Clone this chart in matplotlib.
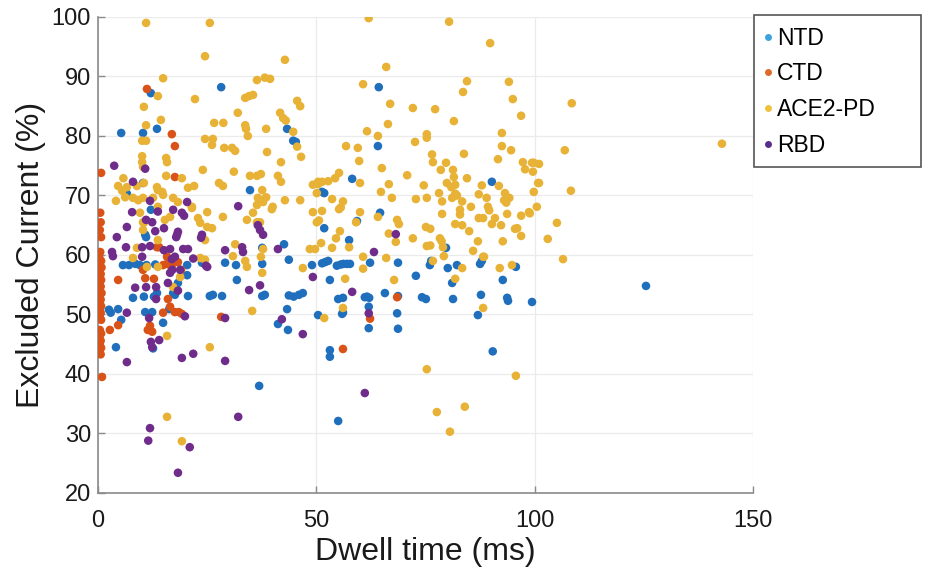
import matplotlib.pyplot as plt
from matplotlib.patches import Rectangle
import numpy as np

# values: (dwell time ms, excluded current %)
ntd = [
    (28.2, 88.2), (12.1, 87.2), (5.3, 80.5), (10.3, 80.5), (13.5, 81.2), (43.3, 81.2),
    (44.7, 79.2), (45.3, 79.0), (10.3, 72.1), (6.6, 70.3), (34.8, 70.9), (12.1, 67.6),
    (11.0, 63.0), (10.8, 63.4), (37.6, 61.2), (42.6, 61.8), (64.3, 88.2), (64.1, 78.3),
    (58.2, 72.8), (51.3, 70.6), (51.8, 70.4), (90.2, 72.3), (64.6, 67.1), (59.3, 65.7),
    (51.8, 64.5), (57.5, 62.5), (79.7, 61.2),
    (5.7, 58.3), (7.1, 58.3), (8.6, 58.5), (9.6, 58.3), (11.1, 58.3), (13.1, 58.4),
    (20.4, 58.3), (23.8, 58.7), (29.1, 58.7), (31.6, 58.3), (37.6, 58.5), (43.7, 59.2),
    (49.0, 58.3), (51.3, 58.6), (52.0, 58.8), (52.7, 59.0), (54.7, 58.2), (55.6, 58.4),
    (56.2, 58.5), (57.0, 58.5), (57.7, 58.5), (62.3, 58.7), (68.7, 58.7), (76.0, 58.3),
    (76.3, 59.0), (80.1, 57.8), (82.2, 58.3), (87.5, 58.5), (87.9, 59.0), (95.7, 58.0),
    (20.4, 56.6), (31.8, 55.8), (18.3, 55.3), (37.6, 53.1), (38.2, 53.3), (25.6, 53.1),
    (26.3, 53.3), (28.4, 53.1), (43.7, 53.2), (44.8, 53.0), (46.0, 53.3), (46.9, 53.6),
    (8.0, 52.8), (10.5, 53.0), (12.8, 53.0), (13.5, 53.6), (17.2, 53.6), (17.6, 53.3),
    (20.6, 53.1), (16.3, 50.9), (10.8, 50.4), (12.4, 50.4), (14.9, 48.6), (41.2, 48.4),
    (43.3, 50.9), (43.5, 47.4), (50.4, 49.9), (2.5, 50.8), (2.9, 50.3), (4.6, 50.9),
    (5.3, 49.1), (4.1, 44.5), (12.6, 44.3), (53.1, 55.8), (55.0, 52.6), (56.1, 52.8),
    (61.1, 52.9), (61.6, 53.0), (62.1, 52.8), (65.7, 53.6), (68.7, 53.1), (74.2, 52.9),
    (75.1, 52.6), (81.3, 52.6), (87.7, 53.3), (93.7, 52.8), (93.9, 52.3), (99.4, 52.1),
    (55.9, 50.1), (56.1, 50.3), (62.0, 51.3), (62.0, 47.7), (68.5, 50.2), (68.7, 47.6),
    (87.0, 49.9), (53.1, 44.0), (53.1, 42.9), (90.4, 43.8), (55.0, 32.1), (36.9, 38.0),
    (125.5, 54.8), (72.8, 56.5), (81.1, 55.3), (92.7, 55.8),
]

ctd = [
    (0.7, 73.8), (0.5, 67.1), (0.6, 65.5), (0.4, 64.2), (0.7, 63.0), (0.5, 60.5),
    (0.3, 59.5), (0.7, 59.0), (0.4, 58.4), (0.8, 57.9), (0.3, 57.4), (0.6, 56.8),
    (0.4, 56.3), (0.7, 55.8), (0.3, 55.2), (0.6, 54.7), (0.4, 54.1), (0.8, 53.6),
    (0.3, 53.0), (0.6, 52.5), (0.4, 51.9), (0.7, 51.4), (0.3, 50.8), (0.6, 50.3),
    (0.4, 49.7), (0.7, 49.1), (0.4, 47.4), (0.7, 46.8), (0.3, 46.2), (0.6, 45.6),
    (0.4, 45.0), (0.7, 44.4), (0.3, 43.8), (0.6, 43.3), (0.9, 39.5),
    (11.2, 87.9), (16.9, 80.3), (17.6, 78.3), (17.6, 73.1), (13.5, 61.3), (14.0, 61.3),
    (15.8, 59.7), (4.6, 55.8), (2.7, 47.4), (4.6, 48.2), (14.9, 58.3), (15.8, 58.5),
    (16.5, 58.3), (17.2, 58.6), (18.3, 58.8), (19.0, 57.5), (10.3, 57.5), (10.8, 56.1),
    (12.8, 56.0), (16.0, 52.6), (16.5, 51.3), (14.9, 50.3), (17.6, 50.4), (18.5, 50.4),
    (19.2, 50.1), (11.9, 48.1), (11.4, 47.4), (12.4, 47.1), (28.2, 49.6), (62.3, 49.3),
    (68.5, 52.9), (56.1, 44.2),
]

ace2 = [
    (11.0, 99.0), (25.6, 99.0), (62.0, 99.8), (80.4, 99.2), (89.8, 95.6), (24.5, 93.4),
    (42.8, 92.8), (14.9, 89.7), (36.4, 89.4), (38.2, 89.8), (39.4, 89.6), (13.7, 86.7),
    (22.2, 86.2), (33.7, 86.4), (34.6, 86.7), (35.5, 86.9), (45.6, 85.9), (46.3, 85.0),
    (10.5, 84.9), (11.0, 81.8), (14.4, 82.7), (32.0, 83.9), (26.6, 82.2), (28.7, 82.2),
    (33.7, 81.8), (33.9, 81.2), (34.3, 80.0), (38.5, 81.2), (41.7, 83.9), (42.4, 83.0),
    (43.0, 82.6), (44.7, 80.7), (45.6, 78.2), (46.5, 76.5), (10.1, 79.2), (11.0, 79.2),
    (24.5, 79.5), (26.3, 79.5), (26.1, 78.5), (28.9, 78.0), (30.7, 78.0), (31.4, 77.5),
    (38.7, 77.3), (10.1, 76.6), (10.1, 75.6), (10.3, 74.8), (15.6, 76.3), (15.8, 75.6),
    (41.9, 75.6), (24.0, 74.3), (31.1, 74.0), (15.6, 73.3), (5.8, 72.9), (19.2, 72.9),
    (34.8, 73.3), (36.4, 73.3), (37.3, 73.6), (41.2, 73.3), (41.9, 72.3), (4.6, 71.6),
    (5.5, 70.8), (6.6, 71.4), (8.9, 71.6), (10.5, 72.1), (13.5, 71.4), (13.7, 70.9),
    (14.7, 70.6), (20.6, 71.3), (22.0, 71.6), (27.7, 72.1), (28.6, 71.6), (37.6, 70.9),
    (38.5, 69.7), (50.4, 71.9), (50.1, 70.4), (4.1, 69.1), (6.2, 69.7), (8.0, 69.6),
    (9.2, 69.2), (10.3, 69.6), (12.6, 69.6), (14.9, 70.1), (17.2, 69.6), (18.3, 68.9),
    (21.5, 68.1), (25.0, 67.2), (28.6, 66.4), (36.4, 68.4), (36.6, 69.6), (37.8, 68.9),
    (39.8, 67.7), (40.0, 68.1), (42.8, 69.2), (46.3, 69.2), (49.2, 67.2), (50.1, 65.5),
    (9.6, 67.1), (10.5, 65.4), (15.3, 65.9), (16.5, 66.4), (22.9, 66.2), (23.4, 65.4),
    (34.1, 65.9), (35.5, 67.1), (36.4, 65.5), (37.1, 65.5), (25.0, 64.7), (26.1, 64.5),
    (8.9, 61.2), (13.7, 62.5), (24.5, 62.5), (31.4, 61.8), (37.8, 61.0), (48.5, 61.0),
    (49.7, 61.0), (8.0, 59.5), (11.2, 58.0), (13.7, 58.0), (23.4, 59.5), (24.5, 59.2),
    (18.8, 56.3), (17.2, 54.6), (15.8, 46.4), (25.6, 44.5), (35.3, 50.6), (30.9, 59.8),
    (33.7, 59.0), (34.1, 58.0), (37.6, 57.0), (37.3, 59.7), (46.9, 57.8), (15.8, 32.8),
    (19.2, 28.7), (10.3, 65.5), (10.3, 64.2), (13.7, 68.1), (21.5, 67.9),
    (66.0, 91.6), (60.7, 88.7), (84.5, 89.2), (83.6, 87.4), (94.1, 89.1), (95.0, 86.2),
    (96.9, 83.4), (66.9, 85.4), (72.1, 84.7), (77.2, 84.5), (81.5, 82.5), (66.4, 82.0),
    (61.6, 80.8), (64.1, 80.0), (75.3, 80.3), (75.3, 79.7), (72.6, 79.0), (56.8, 78.3),
    (59.5, 78.0), (59.8, 75.8), (92.5, 80.5), (92.5, 78.3), (94.6, 77.6), (91.6, 76.1),
    (76.5, 76.9), (76.7, 75.6), (83.8, 77.0), (79.7, 75.5), (97.3, 75.6), (99.4, 75.5),
    (65.0, 74.6), (55.2, 73.8), (54.3, 72.9), (70.8, 73.4), (78.5, 74.3), (81.3, 74.3),
    (81.5, 73.1), (97.8, 74.4), (84.5, 72.9), (60.0, 72.1), (66.6, 71.9), (74.6, 71.7),
    (79.9, 72.1), (80.9, 71.4), (81.8, 71.8), (87.9, 71.7), (91.8, 71.6), (100.8, 72.1),
    (49.2, 71.8), (50.4, 72.3), (51.3, 72.3), (52.7, 72.4), (64.8, 70.6), (78.1, 70.4),
    (81.8, 70.3), (82.2, 70.0), (87.2, 70.2), (93.2, 70.4), (93.0, 69.2), (93.5, 68.8),
    (94.2, 69.6), (53.6, 69.4), (56.1, 69.0), (67.3, 69.6), (72.8, 69.4), (75.3, 69.6),
    (78.8, 69.0), (81.1, 69.6), (83.4, 69.0), (89.0, 69.6), (51.3, 67.4), (55.2, 67.7),
    (55.6, 68.0), (60.0, 67.2), (78.8, 66.9), (82.9, 67.6), (82.9, 66.8), (85.4, 68.1),
    (87.2, 66.2), (89.3, 68.1), (89.6, 67.5), (90.9, 66.2), (88.2, 66.2), (93.7, 66.9),
    (96.9, 66.6), (98.7, 67.2), (50.6, 65.8), (59.1, 65.5), (64.1, 66.4), (68.5, 65.9),
    (68.9, 65.2), (75.1, 64.7), (76.1, 64.4), (81.8, 65.2), (83.4, 65.0), (85.0, 64.0),
    (90.2, 65.2), (92.3, 65.0), (95.5, 64.4), (96.0, 64.5), (96.9, 63.2), (54.5, 62.8),
    (55.4, 64.0), (66.6, 63.6), (72.1, 62.8), (78.3, 62.8), (78.7, 62.3), (87.0, 62.3),
    (92.7, 62.3), (51.1, 62.0), (57.5, 61.3), (68.2, 62.2), (75.3, 61.5), (76.1, 61.6),
    (79.0, 61.3), (85.9, 60.7), (88.4, 59.7), (53.6, 61.2),
    (108.5, 85.5), (142.9, 78.7), (106.9, 77.6), (99.8, 75.5), (101.0, 75.3), (99.6, 74.0),
    (101.0, 72.1), (99.8, 70.6), (108.3, 70.8), (100.5, 68.1), (98.9, 67.0), (105.1, 65.4),
    (103.0, 62.7), (106.5, 59.3),
    (60.7, 59.7), (60.7, 57.7), (66.0, 59.5), (76.7, 59.0), (79.2, 59.8), (83.4, 57.8),
    (88.2, 59.7), (92.0, 57.8), (94.8, 58.3), (56.6, 56.0), (67.8, 55.8), (81.8, 56.0),
    (56.1, 51.1), (51.8, 49.4), (88.2, 51.1), (75.3, 40.8), (95.7, 39.7), (77.6, 33.6),
    (84.0, 34.5), (80.6, 30.3),
]

rbd = [
    (3.7, 75.0), (10.8, 74.5), (8.0, 72.3), (11.9, 69.1), (20.4, 68.9), (32.1, 68.2),
    (7.8, 67.2), (13.7, 67.3), (17.2, 67.6), (19.7, 66.6), (19.2, 67.1), (11.0, 65.9),
    (12.4, 65.5), (6.6, 64.7), (15.1, 64.5), (13.1, 64.0), (18.3, 63.9), (18.1, 63.4),
    (17.9, 63.0), (4.3, 63.0), (23.6, 62.9), (23.8, 63.4), (36.6, 65.0), (37.1, 64.2),
    (37.8, 63.4), (6.4, 61.3), (10.1, 61.3), (11.9, 61.5), (16.5, 61.0), (19.5, 61.0),
    (20.6, 61.0), (29.1, 60.8), (33.0, 61.3), (33.2, 60.5), (41.2, 61.0), (3.2, 60.5),
    (3.4, 59.8), (15.1, 60.8), (17.6, 59.7), (21.8, 59.4), (24.7, 58.2), (25.0, 58.0),
    (10.1, 59.7), (16.9, 59.3), (16.5, 57.0), (17.0, 57.5), (18.8, 57.5), (49.2, 56.3),
    (37.1, 54.9), (34.6, 54.1), (8.5, 54.5), (11.0, 54.6), (13.3, 54.6), (16.0, 55.3),
    (18.3, 54.0), (13.3, 52.6), (19.9, 49.7), (11.7, 49.4), (6.6, 50.3), (12.1, 45.4),
    (12.4, 44.5), (14.0, 45.7), (19.2, 42.7), (21.8, 43.4), (29.1, 42.2), (29.1, 49.4),
    (42.1, 49.2), (46.9, 46.7), (6.6, 42.0), (32.1, 32.8), (11.9, 30.9), (11.5, 28.8),
    (21.0, 27.7), (18.3, 23.4), (61.1, 36.8), (62.0, 50.2), (58.2, 53.8), (68.2, 63.5),
    (63.2, 60.5),
]

series = [("NTD", ntd, "#1f6fbd"), ("CTD", ctd, "#d95319"),
          ("ACE2-PD", ace2, "#e8b236"), ("RBD", rbd, "#6f2c8a")]
legend_colors = ["#3ca3dc", "#e06a2c", "#f0c040", "#5a2d8c"]

plt.rcParams['font.family'] = ['Liberation Sans', 'DejaVu Sans']

fig = plt.figure(figsize=(9.25, 5.77), dpi=100)
ax = fig.add_axes([0.106, 0.1456, 0.708, 0.825])

for name, pts, col in series:
    arr = np.array(pts)
    ax.scatter(arr[:, 0], arr[:, 1], s=38, color=col, edgecolors='none',
               label=name, zorder=3)

ax.set_xlim(0, 150)
ax.set_ylim(20, 100)
ax.set_xticks([0, 50, 100, 150])
ax.set_yticks(np.arange(20, 101, 10))
ax.grid(True, color='#ebebeb', linewidth=0.9, zorder=0)
ax.set_axisbelow(True)
for side in ['top', 'right']:
    ax.spines[side].set_visible(False)
for side in ['left', 'bottom']:
    ax.spines[side].set_color('#8a8a8a')
    ax.spines[side].set_linewidth(1.2)
ax.tick_params(direction='in', length=5, width=1, color='#8a8a8a',
               labelsize=17, labelcolor='#1a1a1a')
ax.tick_params(axis='y', pad=5)
ax.tick_params(axis='x', pad=12)

ax.set_xlabel('Dwell time (ms)', fontsize=23, color='#1a1a1a', labelpad=4)
ax.set_ylabel('Excluded Current (%)', fontsize=23, color='#1a1a1a', labelpad=4)

# legend box drawn by hand so its size matches the reference
fig.patches.append(Rectangle((754 / 925, 1 - 167 / 577), 167 / 925, 152 / 577,
                             transform=fig.transFigure, facecolor='white',
                             edgecolor='#555555', linewidth=1.2, zorder=5))
handles = [plt.Line2D([], [], ls='none', marker='o', ms=5, color=c, mec='none')
           for c in legend_colors]
leg = fig.legend(handles, [s[0] for s in series], loc='upper left',
                 bbox_to_anchor=(752 / 925, 1 - 20 / 577), fontsize=16.5,
                 frameon=False, handletextpad=0.0, handlelength=0.8,
                 borderpad=0.3, labelspacing=0.55, borderaxespad=0)
leg.set_zorder(6)

plt.savefig('out.png', dpi=100)
